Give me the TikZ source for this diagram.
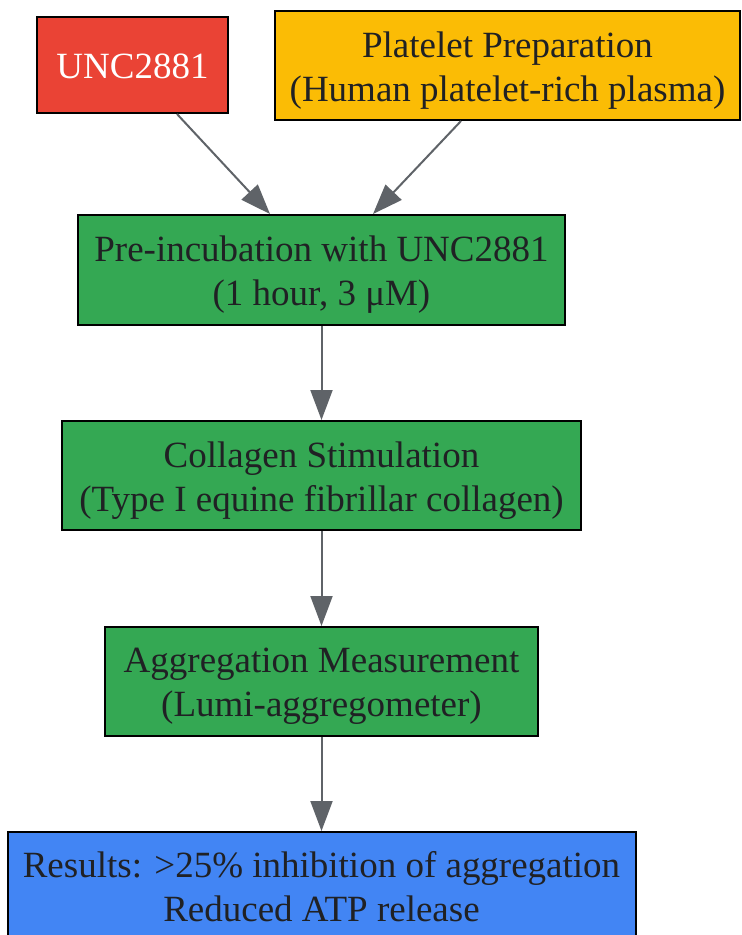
\documentclass[tikz,border=0pt]{standalone}
\usepackage{fontspec}
\setmainfont{Liberation Serif}
\usetikzlibrary{arrows.meta}
\definecolor{gred}{HTML}{EA4335}
\definecolor{gyellow}{HTML}{FBBC05}
\definecolor{ggreen}{HTML}{34A853}
\definecolor{gblue}{HTML}{4285F4}
\definecolor{gtext}{HTML}{202124}
\definecolor{garrow}{HTML}{5F6368}
\begin{document}
\begin{tikzpicture}[x=1pt,y=1pt,
  box/.style={draw=black,line width=2pt,inner sep=0pt},
  txt/.style={inner sep=0pt,align=center,text=gtext,font=\fontsize{37}{44}\selectfont},
  conn/.style={draw=garrow,line width=2pt,-{Triangle[length=30pt,width=22pt]}}]
\useasboundingbox (0,0) rectangle (742,-935);
\node[box,fill=gred,minimum width=191pt,minimum height=96pt] (unc) at (132.5,-65) {};
\node[txt,text=white] (uncT) at ([yshift=-1pt]unc.center) {UNC2881};
\node[box,fill=gyellow,minimum width=465pt,minimum height=109pt] (plt) at (507.5,-65.5) {};
\node[txt] (pltT) at ([yshift=-5pt]plt.center) {Platelet Preparation\\(Human platelet-rich plasma)};
\node[box,fill=ggreen,minimum width=487pt,minimum height=110pt] (pre) at (321.5,-270) {};
\node[txt] (preT) at ([yshift=-5pt]pre.center) {Pre-incubation with UNC2881\\(1 hour, 3 μM)};
\node[box,fill=ggreen,minimum width=519pt,minimum height=109pt] (col) at (321.5,-475.5) {};
\node[txt] (colT) at ([yshift=-5pt]col.center) {Collagen Stimulation\\(Type I equine fibrillar collagen)};
\node[box,fill=ggreen,minimum width=433pt,minimum height=109pt] (agg) at (321.5,-681.5) {};
\node[txt] (aggT) at ([yshift=-5pt]agg.center) {Aggregation Measurement\\(Lumi-aggregometer)};
\node[box,fill=gblue,minimum width=628pt,minimum height=109pt] (res) at (321.5,-886.5) {};
\node[txt] (resT) at (res.center) {Results: >25\% inhibition of aggregation\\Reduced ATP release};
\draw[conn] ([xshift=44.5pt]unc.south) -- ([xshift=-51.5pt]pre.north);
\draw[conn] ([xshift=-46.5pt]plt.south) -- ([xshift=51.5pt]pre.north);
\draw[conn] (pre.south) -- (col.north);
\draw[conn] (col.south) -- (agg.north);
\draw[conn] (agg.south) -- (res.north);
\end{tikzpicture}
\end{document}
